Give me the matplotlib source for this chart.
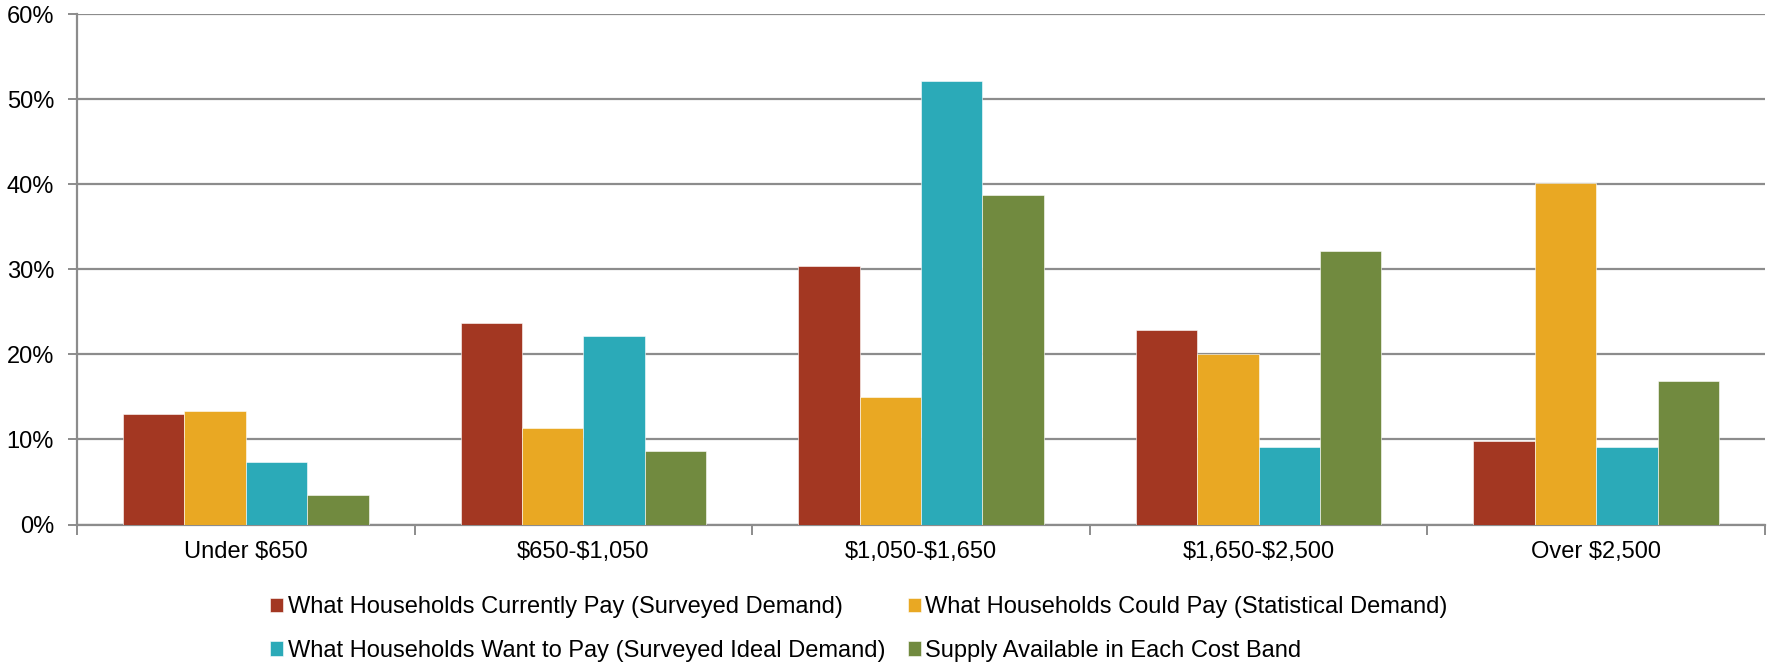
import matplotlib
matplotlib.use("Agg")
import matplotlib.pyplot as plt
import numpy as np
from matplotlib.ticker import FuncFormatter, FixedLocator

plt.rcParams['font.family'] = ['Liberation Sans', 'DejaVu Sans']
plt.rcParams['text.parse_math'] = False

categories = ["Under $650", "$650-$1,050", "$1,050-$1,650", "$1,650-$2,500", "Over $2,500"]
series_names = [
    "What Households Currently Pay (Surveyed Demand)",
    "What Households Could Pay (Statistical Demand)",
    "What Households Want to Pay (Surveyed Ideal Demand)",
    "Supply Available in Each Cost Band",
]
currently_pay = [13.0, 23.7, 30.4, 22.9, 9.8]
could_pay = [13.3, 11.3, 15.0, 20.0, 40.2]
want_to_pay = [7.4, 22.2, 52.1, 9.1, 9.1]
supply = [3.5, 8.7, 38.7, 32.2, 16.9]
colors = ["#A33722", "#E9A823", "#2BAAB8", "#718A3F"]

W, H = 1767, 662
fig = plt.figure(figsize=(W/100, H/100), dpi=100)
L, R, T, B = 77, 1765, 14.3, 524.5
ax = fig.add_axes([L/W, 1-B/H, (R-L)/W, (B-T)/H])

x = np.arange(len(categories))
w = 0.182
all_series = [currently_pay, could_pay, want_to_pay, supply]
handles = []
for i, (vals, c, name) in enumerate(zip(all_series, colors, series_names)):
    b = ax.bar(x + (i - 1.5) * w, vals, width=w, color=c, label=name, zorder=3,
               edgecolor='white', linewidth=0.4)
    handles.append(b)

ax.set_xlim(-0.5, len(categories) - 0.5)
ax.set_ylim(0, 60)
ax.set_yticks(np.arange(0, 61, 10))
ax.yaxis.set_major_formatter(FuncFormatter(lambda v, p: f"{int(v)}%"))
ax.yaxis.grid(True, color='#8C8C8C', linewidth=1.6, zorder=0)
ax.set_axisbelow(True)

ax.set_xticks(x)
ax.set_xticklabels(categories)
ax.xaxis.set_minor_locator(FixedLocator(np.arange(-0.5, len(categories), 1.0)))
ax.tick_params(axis='x', which='major', length=0, pad=12, labelsize=17, colors='black')
ax.tick_params(axis='x', which='minor', length=7, width=1.4, color='#8C8C8C')
ax.tick_params(axis='y', which='major', length=6.5, width=1.4, color='#8C8C8C', labelsize=17, pad=10)

for s in ['top', 'right']:
    ax.spines[s].set_visible(False)
for s in ['left', 'bottom']:
    ax.spines[s].set_color('#8C8C8C')
    ax.spines[s].set_linewidth(1.6)

order = [0, 2, 1, 3]
fig.legend(handles=[handles[i] for i in order], labels=[series_names[i] for i in order],
           ncol=2, loc='upper left',
           bbox_to_anchor=(270/W, 1-596.5/H), frameon=False, fontsize=17,
           handlelength=0.55, handleheight=0.55, handletextpad=0.2,
           columnspacing=0.95, labelspacing=0.9, borderpad=0, borderaxespad=0)

fig.savefig("out.png", dpi=100, facecolor='white')
